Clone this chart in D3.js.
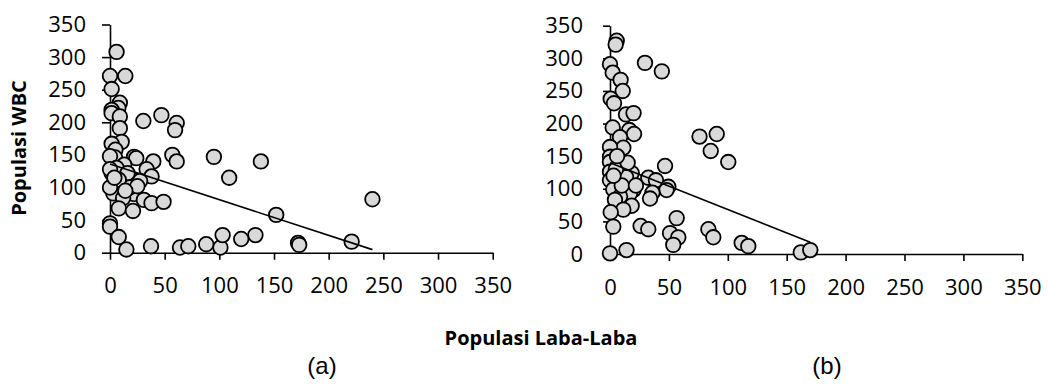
<!DOCTYPE html>
<html>
<head>
<meta charset="utf-8">
<script src="https://cdn.jsdelivr.net/npm/d3@7"></script>
<style>
  html, body { margin: 0; padding: 0; background: #fff; }
  svg { display: block; }
</style>
</head>
<body>
<svg id="chart" width="1048" height="387"></svg>
<script>
// ---- Data ----
const xTicks = [0, 50, 100, 150, 200, 250, 300, 350];
const yTicks = [0, 50, 100, 150, 200, 250, 300, 350];

// Panel (a): [Populasi Laba-Laba, Populasi WBC]
const pointsA = [
  [6,308],[0,271],[14,271],[1.5,251],[9,230],[7.6,222],[1.5,219],[1.5,214],[9,209],
  [30.5,202],[47,211],[61,199],[59.5,188],[9,191],[10.7,170],[1.5,167],[5,158],
  [4.6,146],[0,148],[22,147],[24,145],[39.6,140],[57,150],[61,140],[95,147],[138,140],
  [109,115],[152,58],[13,135],[33.5,128],[38,117],[1.5,122],[19,114],[27.5,110],
  [10.7,106],[3,96],[3,91],[22,90],[12,84],[31,81],[38,76],[49,78],[8,68],[21,64],
  [0,45],[0,40],[8,24],[15,5],[37.5,10],[64,8],[71.6,10],[88,13],[101,8],[103,27],
  [120,21],[133,27],[172,15],[173,12],[221,17],[240,82],
  [6,130],[16,122],[18,100],[25,102],[8,112],[0,100],[0,128],[4,115],[14,95]
];
// Panel (b)
const pointsB = [
  [5.7,327],[4.8,321],[0,291],[29.7,293],[44,280],[2.3,278],[9,267],[10.8,250],
  [0.6,238],[3.4,231],[13.6,214],[20,216],[2.3,194],[16.4,190],[20.4,184],[8.5,179],
  [76,180],[90.6,184],[85.5,158],[100.4,141],[3.4,158],[11.3,163],[0,164],[0,149],
  [46.7,135],[0,141],[8.5,137],[18.4,124],[0,126],[12.7,115],[7,111],[0,113],
  [32.5,117],[39,113],[49.5,103],[48,98],[20,98],[2.8,99],[17,93],[36,94],[34,85],
  [8.5,88],[4.2,83],[18.4,74],[11.3,68],[0.6,64],[56.6,55],[2.8,42],[26,43],[32.5,38],
  [51,32],[58,25.5],[53.7,14],[0,1],[14,6],[83.5,38],[87.7,25.6],[111.8,17],[117.4,12],
  [162,2.5],[170,6],[13.6,118],[5,130],[10,105],[15,140],[3,120],[22,105],[6,150]
];
// Linear trend lines: [intercept, slope]
const trendA = [136, -0.547];
const trendB = [140, -0.718];

const panelLabels = ["(a)", "(b)"];
const yTitle = "Populasi WBC";
const xTitle = "Populasi Laba-Laba";

// ---- Drawing ----
const svg = d3.select("#chart");
const tickFont = "'Open Sans', sans-serif";

const panels = [
  { pts: pointsA, trend: trendA, x0: 110, x1: 492.7, y0: 252.7, y1: 24.5, yTick: 8, yPad: 16, label: panelLabels[0], lx: 322 },
  { pts: pointsB, trend: trendB, x0: 610, x1: 1022.3, y0: 254, y1: 25.7, yTick: 7, yPad: 20, label: panelLabels[1], lx: 827 }
];

panels.forEach(p => {
  const x = d3.scaleLinear().domain([0, 350]).range([p.x0, p.x1]);
  const y = d3.scaleLinear().domain([0, 350]).range([p.y0, p.y1]);
  const g = svg.append("g");

  const yAx = g.append("g").attr("transform", `translate(${p.x0},0)`)
    .call(d3.axisLeft(y).tickValues(yTicks).tickSize(p.yTick).tickPadding(p.yPad).tickSizeOuter(0));
  const xAx = g.append("g").attr("transform", `translate(0,${p.y0})`)
    .call(d3.axisBottom(x).tickValues(xTicks).tickSize(7).tickPadding(18).tickSizeOuter(0));

  [yAx, xAx].forEach(ax => {
    ax.select(".domain").attr("stroke", "#000").attr("stroke-width", 1.6);
    ax.selectAll(".tick line").attr("stroke", "#000").attr("stroke-width", 1.6);
    ax.selectAll(".tick text").attr("fill", "#000").style("font-family", tickFont).style("font-size", "22px");
  });

  g.append("g").selectAll("circle").data(p.pts).join("circle")
    .attr("cx", d => x(d[0])).attr("cy", d => y(d[1])).attr("r", 7.3)
    .attr("fill", "#d9d9d9").attr("stroke", "#000").attr("stroke-width", 1.8);

  const ext = d3.extent(p.pts, d => d[0]);
  const f = v => p.trend[0] + p.trend[1] * v;
  g.append("line")
    .attr("x1", x(ext[0])).attr("y1", y(f(ext[0])))
    .attr("x2", x(ext[1])).attr("y2", y(f(ext[1])))
    .attr("stroke", "#000").attr("stroke-width", 1.6);

  svg.append("text").attr("x", p.lx).attr("y", 374).attr("text-anchor", "middle")
    .style("font-family", "'Liberation Sans', Arial, sans-serif").style("font-size", "24px")
    .attr("fill", "#000").text(p.label);
});

svg.append("text")
  .attr("transform", "translate(26,148) rotate(-90)")
  .attr("text-anchor", "middle")
  .style("font-family", tickFont).style("font-size", "20px").style("font-weight", "bold")
  .attr("fill", "#000").text(yTitle);

svg.append("text")
  .attr("x", 541).attr("y", 345).attr("text-anchor", "middle")
  .style("font-family", tickFont).style("font-size", "20px").style("font-weight", "bold")
  .attr("fill", "#000").text(xTitle);
</script>
</body>
</html>
